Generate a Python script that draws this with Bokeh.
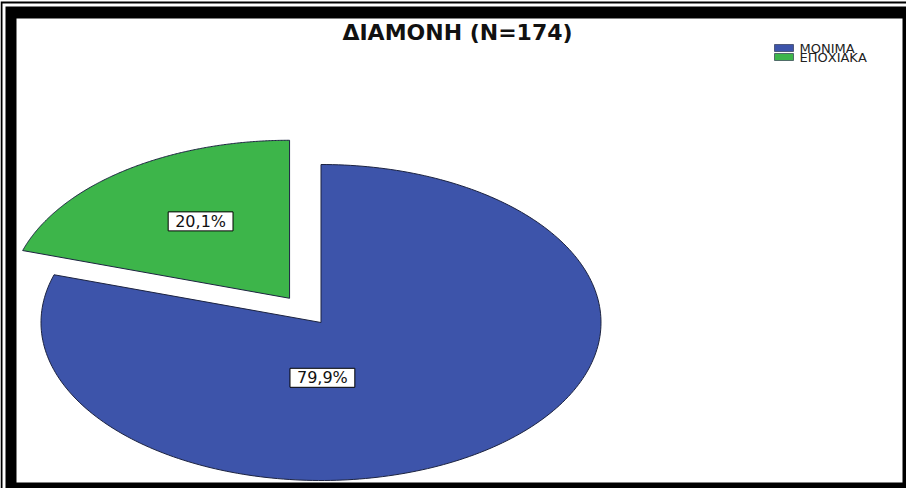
import numpy as np
from bokeh.plotting import figure
from bokeh.models import Range1d
from bokeh.core.properties import value
from bokeh.embed import file_html
from bokeh.resources import INLINE

# ---- data ----
title_text = "ΔΙΑΜΟΝΗ (N=174)"
categories = ["ΜΟΝΙΜΑ", "ΕΠΟΧΙΑΚΑ"]
counts = [139, 35]
colors = ["#3D54AA", "#3DB54A"]
explode = [0.0, 0.19]

# ---- layout (pixels) ----
W, H = 906, 488
CX, CY = 320.5, 322.0      # pie centre, px from top-left
RX, RY = 280.0, 158.0      # pie radii in px (stretched ellipse)

p = figure(width=W, height=H, output_backend="svg", toolbar_location=None,
           x_axis_location=None, y_axis_location=None,
           x_range=Range1d(-CX / RX, (W - CX) / RX),
           y_range=Range1d(-(H - CY) / RY, CY / RY),
           min_border=0, outline_line_color=None,
           background_fill_color="white", border_fill_color="white")
p.grid.visible = False
p.extra_x_ranges = {"px": Range1d(0, W)}
p.extra_y_ranges = {"px": Range1d(H, 0)}

# ---- frame (double black border) ----
fr_left = [0, 2, 5, 16]
fr_right = [W, W, W, 902]
fr_top = [1, 3, 6, 18]
fr_bottom = [H, H, H, 482]
fr_color = ["black", "white", "black", "white"]
p.quad(left=fr_left, right=fr_right, top=fr_top, bottom=fr_bottom,
       fill_color=fr_color, line_color=None, x_range_name="px", y_range_name="px")

# ---- pie slices ----
total = float(sum(counts))
fracs = np.array(counts) / total
cum = np.concatenate([[0.0], np.cumsum(fracs)])
xs, ys = [], []
for i in range(len(counts)):
    a0 = np.pi / 2 - 2 * np.pi * cum[i]
    a1 = np.pi / 2 - 2 * np.pi * cum[i + 1]
    mid = (a0 + a1) / 2
    ox, oy = explode[i] * np.cos(mid), explode[i] * np.sin(mid)
    t = np.linspace(a0, a1, 240)
    xs.append(np.concatenate([[ox], ox + np.cos(t), [ox]]))
    ys.append(np.concatenate([[oy], oy + np.sin(t), [oy]]))
p.patches(xs, ys, fill_color=colors, line_color="#1c2340", line_width=1)

# ---- percentage labels ----
labels = [("%.1f" % (100 * c / total)).replace(".", ",") + "%" for c in counts]
label_x = [0.005, -0.43]
label_y = [-0.35, 0.64]
p.text(x=label_x, y=label_y, text=labels, text_align="center", text_baseline="middle",
       text_font=value("DejaVu Sans"), text_font_size="16px", text_color="#111111",
       background_fill_color="white", border_line_color="black", border_line_width=1,
       padding=dict(left=7, right=7, top=0, bottom=0))

# ---- title ----
p.text(x=[457], y=[32], text=[title_text], text_align="center", text_baseline="middle",
       text_font=value("DejaVu Sans"), text_font_style="bold", text_font_size="22px",
       text_color="#111111", x_range_name="px", y_range_name="px")

# ---- legend ----
lg_top = [44, 53]
lg_bottom = [51, 60]
p.quad(left=[774] * 2, right=[793] * 2, top=lg_top, bottom=lg_bottom,
       fill_color=colors, line_color="#1c2340", line_width=0.6,
       x_range_name="px", y_range_name="px")
p.text(x=[799] * 2, y=[(a + b) / 2 + 0.5 for a, b in zip(lg_top, lg_bottom)], text=categories,
       text_align="left", text_baseline="middle", text_font=value("DejaVu Sans"),
       text_font_size="13px", text_color="#222222", x_range_name="px", y_range_name="px")

open("out.html", "w").write(file_html(p, INLINE))
